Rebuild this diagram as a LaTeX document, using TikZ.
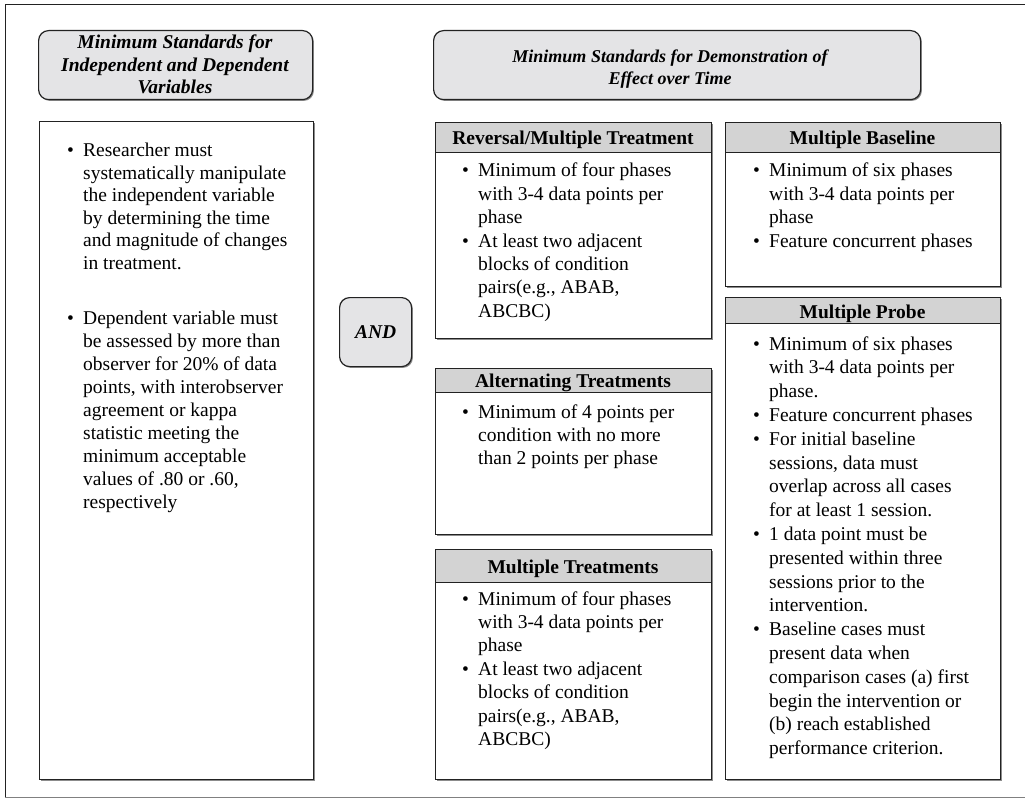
\documentclass[tikz,border=0pt]{standalone}
\usepackage{fontspec}
\setmainfont{Liberation Serif}
\usetikzlibrary{shadows}
\definecolor{hdrfill}{HTML}{E4E4E6}
\definecolor{bandfill}{HTML}{D3D3D3}
\definecolor{edge}{HTML}{222222}
\newcommand{\itm}{\par\noindent\llap{\makebox[16pt][l]{\textbullet}}}
\newcommand{\blk}[2]{\begin{minipage}[t]{250pt}\fontsize{19.5}{#1}\selectfont\raggedright #2\end{minipage}}
\newcommand{\hblk}[4]{\begin{minipage}[t]{#1}\centering\fontsize{#4}{#2}\selectfont\bfseries\itshape #3\end{minipage}}
\tikzset{
  card/.style={draw=edge, line width=1.2pt, fill=white, inner sep=0pt, anchor=north west,
    drop shadow={shadow xshift=1.3pt, shadow yshift=-1.3pt, fill=black!45, opacity=1}},
  roundcard/.style={card, fill=hdrfill, rounded corners=10pt},
  band/.style={draw=edge, line width=1.2pt, fill=bandfill, inner sep=0pt, anchor=north west},
  txt/.style={inner sep=0pt, anchor=base west},
  htxt/.style={inner sep=0pt, anchor=base, font=\fontsize{19.5}{23}\selectfont\bfseries},
  ctxt/.style={inner sep=0pt, anchor=base}
}
\begin{document}
\begin{tikzpicture}[x=1pt,y=-1pt]
\useasboundingbox (0,0) rectangle (1025,805);
% outer frame
\draw[draw=edge, line width=1pt] (5,797.5) -- (5,5) -- (1026,5);
\draw[draw=black!50, line width=1.2pt] (5,797.5) -- (1026,797.5);

% headers
\node[roundcard, minimum width=274pt, minimum height=69pt] (hl) at (38,30) {};
\node[ctxt] (hlt) at (175,48.5) {\hblk{270pt}{22.7}{Minimum Standards for\\Independent and Dependent\\Variables}{19.5}};
\node[roundcard, minimum width=487pt, minimum height=69pt] (hr) at (433,30) {};
\node[ctxt] (hrt) at (670,62.5) {\hblk{470pt}{22.5}{Minimum Standards for Demonstration of\\Effect over Time}{18}};

% left body
\node[card, minimum width=274pt, minimum height=658pt] (lb) at (39,121) {};
\node[txt] (lb1) at (83,157) {\blk{22.5}{\itm Researcher must\\systematically manipulate\\the independent variable\\by determining the time\\and magnitude of changes\\in treatment.}};
\node[txt] (lb2) at (83,324) {\blk{23}{\itm Dependent variable must\\be assessed by more than\\observer for 20\% of data\\points, with interobserver\\agreement or kappa\\statistic meeting the\\minimum acceptable\\values of .80 or .60,\\respectively}};

% AND
\node[roundcard, minimum width=72pt, minimum height=69pt] (and) at (339,297) {};
\node[inner sep=0pt, font=\fontsize{19.5}{23}\selectfont\bfseries\itshape] (andt) at (and.center) {AND};

% Reversal / Multiple Treatment
\node[card, minimum width=276pt, minimum height=216pt] (rev) at (435,122) {};
\node[band, minimum width=276pt, minimum height=30pt] (revb) at (rev.north west) {};
\node[htxt] (revh) at (573,145) {Reversal/Multiple Treatment};
\node[txt] (revt) at (478,177) {\blk{23.4}{\itm Minimum of four phases\\with 3-4 data points per\\phase\itm At least two adjacent\\blocks of condition\\pairs(e.g., ABAB,\\ABCBC)}};

% Alternating Treatments
\node[card, minimum width=276pt, minimum height=166pt] (alt) at (435,368) {};
\node[band, minimum width=276pt, minimum height=24pt] (altb) at (alt.north west) {};
\node[htxt] (alth) at (573,387) {Alternating Treatments};
\node[txt] (altt) at (478,418) {\blk{23.4}{\itm Minimum of 4 points per\\condition with no more\\than 2 points per phase}};

% Multiple Treatments
\node[card, minimum width=276pt, minimum height=230pt] (mt) at (435,549) {};
\node[band, minimum width=276pt, minimum height=33pt] (mtb) at (mt.north west) {};
\node[htxt] (mth) at (573,573) {Multiple Treatments};
\node[txt] (mtt) at (478,605) {\blk{23.4}{\itm Minimum of four phases\\with 3-4 data points per\\phase\itm At least two adjacent\\blocks of condition\\pairs(e.g., ABAB,\\ABCBC)}};

% Multiple Baseline
\node[card, minimum width=275pt, minimum height=164pt] (mb) at (725,122) {};
\node[band, minimum width=275pt, minimum height=30pt] (mbb) at (mb.north west) {};
\node[htxt] (mbh) at (862.5,145) {Multiple Baseline};
\node[txt] (mbt) at (769,177) {\blk{23.4}{\itm Minimum of six phases\\with 3-4 data points per\\phase\itm Feature concurrent phases}};

% Multiple Probe
\node[card, minimum width=275pt, minimum height=482pt] (mp) at (725,297) {};
\node[band, minimum width=275pt, minimum height=26pt] (mpb) at (mp.north west) {};
\node[htxt] (mph) at (862.5,318) {Multiple Probe};
\node[txt] (mpt) at (769,350) {\blk{23.8}{\itm Minimum of six phases\\with 3-4 data points per\\phase.\itm Feature concurrent phases\itm For initial baseline\\sessions, data must\\overlap across all cases\\for at least 1 session.\itm 1 data point must be\\presented within three\\sessions prior to the\\intervention.\itm Baseline cases must\\present data when\\comparison cases (a) first\\begin the intervention or\\(b) reach established\\performance criterion.}};
\end{tikzpicture}
\end{document}
